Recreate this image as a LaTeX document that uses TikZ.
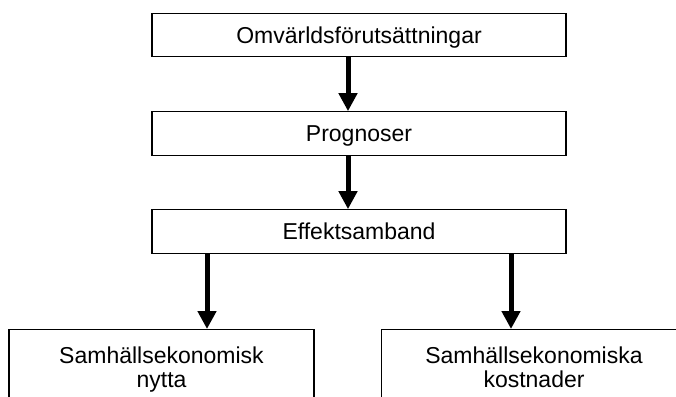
\documentclass[tikz,border=0pt]{standalone}
\usepackage{fontspec}
\setmainfont{Liberation Sans}
\usetikzlibrary{arrows.meta}

\tikzset{
  stage/.style={draw=black, line width=1.2pt, fill=white,
    minimum width=414pt, minimum height=43.5pt, inner sep=0pt,
    text height=16.5pt, text depth=0pt,
    font=\fontsize{23}{24}\selectfont},
  result/.style={draw=black, line width=1.2pt, fill=white,
    minimum width=305pt, inner xsep=0pt, inner ysep=17.5pt,
    align=center, text height=40.5pt, text depth=70pt,
    font=\fontsize{23}{24}\selectfont},
  flow/.style={line width=5pt, -{Triangle[width=18pt,length=18pt]}}
}

\begin{document}
\begin{tikzpicture}[x=1pt, y=-1pt]
  \useasboundingbox (0,0) rectangle (676,396);

  % main chain
  \node[stage] (omv)  at (359,35)    {Omvärldsförutsättningar};
  \node[stage] (prog) at (359,133.5) {Prognoser};
  \node[stage] (eff)  at (359,231.5) {Effektsamband};

  % outcome boxes, running off the lower edge
  \node[result, anchor=north] (nytta) at (161.5,329) {Samhällsekonomisk\\nytta};
  \node[result, anchor=north] (kost)  at (534,329)   {Samhällsekonomiska\\kostnader};

  % connectors
  \draw[flow] ([xshift=-11pt]omv.south)  -- ([xshift=-11pt]prog.north);
  \draw[flow] ([xshift=-11pt]prog.south) -- ([xshift=-11pt]eff.north);
  \draw[flow] ([xshift=-152pt]eff.south) -- ([xshift=45.5pt]nytta.north);
  \draw[flow] ([xshift=152pt]eff.south)  -- ([xshift=-23pt]kost.north);
\end{tikzpicture}
\end{document}
